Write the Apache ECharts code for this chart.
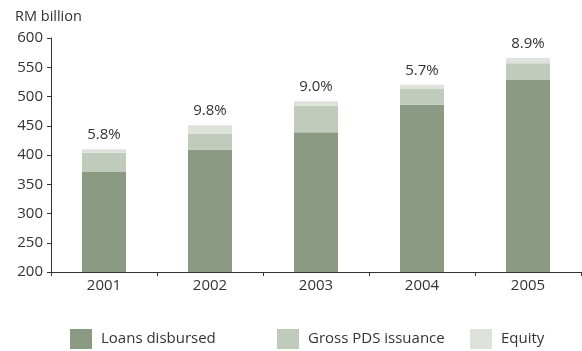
<!DOCTYPE html>
<html>
<head>
<meta charset="utf-8">
<script src="https://cdn.jsdelivr.net/npm/echarts@6/dist/echarts.min.js"></script>
<style>
  html, body { margin: 0; padding: 0; background: #fff; }
  #chart { width: 582px; height: 351px; }
</style>
</head>
<body>
<div id="chart"></div>
<script>
// Financing raised by the private sector, RM billion
const years = ['2001', '2002', '2003', '2004', '2005'];
const loansDisbursed = [371, 409, 439, 486, 528];
const grossPdsIssuance = [33, 27, 45, 27, 29];
const equity = [6, 15, 8, 7, 9];
const growthLabels = ['5.8%', '9.8%', '9.0%', '5.7%', '8.9%'];
const yTicks = { min: 200, max: 600, interval: 50 };

const FONT = '"Open Sans", "Noto Sans", sans-serif';
const TEXT = '#333333';
const colors = ['#8b9a82', '#c0cbbc', '#dde2db'];

const chart = echarts.init(document.getElementById('chart'), null, { renderer: 'canvas' });

function legendAt(left, name) {
  return {
    left: left, top: 329, padding: 0,
    itemWidth: 22, itemHeight: 20, itemGap: 0,
    icon: 'rect',
    selectedMode: false,
    data: [name],
    textStyle: { fontFamily: FONT, fontSize: 15, color: TEXT, padding: [0, 0, 0, 4] }
  };
}

chart.setOption({
  animation: false,
  color: colors,
  title: {
    text: 'RM billion',
    left: 10, top: 4,
    textStyle: { fontFamily: FONT, fontSize: 14.5, fontWeight: 'normal', color: TEXT }
  },
  legend: [
    legendAt(70, 'Loans disbursed'),
    legendAt(277, 'Gross PDS issuance'),
    legendAt(470, 'Equity')
  ],
  grid: { left: 51, right: 1, top: 38, bottom: 79 },
  xAxis: {
    type: 'category',
    data: years,
    axisLine: { lineStyle: { color: '#333', width: 1 } },
    axisTick: { show: true, length: 4, inside: false, lineStyle: { color: '#333' } },
    axisLabel: { fontFamily: FONT, fontSize: 15, color: TEXT, margin: 6 }
  },
  yAxis: {
    type: 'value',
    min: yTicks.min, max: yTicks.max, interval: yTicks.interval,
    splitLine: { show: false },
    axisLine: { show: true, lineStyle: { color: '#333', width: 1 } },
    axisTick: { show: true, length: 4, lineStyle: { color: '#333' } },
    axisLabel: { fontFamily: FONT, fontSize: 15, color: TEXT, margin: 8 }
  },
  series: [
    {
      name: 'Loans disbursed', type: 'bar', stack: 'total',
      barWidth: 44, data: loansDisbursed
    },
    {
      name: 'Gross PDS issuance', type: 'bar', stack: 'total',
      barWidth: 44, data: grossPdsIssuance
    },
    {
      name: 'Equity', type: 'bar', stack: 'total',
      barWidth: 44, data: equity,
      label: {
        show: true, position: 'top', distance: 7,
        fontFamily: FONT, fontSize: 15, color: TEXT,
        formatter: p => growthLabels[p.dataIndex]
      }
    }
  ]
});
</script>
</body>
</html>
